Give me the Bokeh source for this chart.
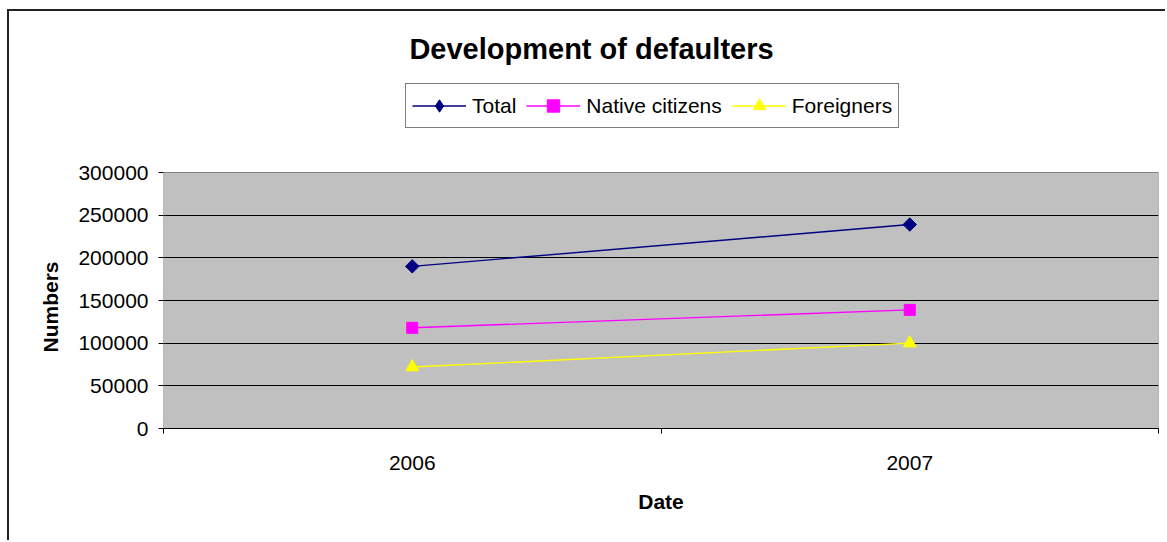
import math
from bokeh.plotting import figure
from bokeh.models import (Range1d, FixedTicker, Legend, LegendItem, Label, Title)
from bokeh.embed import file_html
from bokeh.resources import INLINE

# ---- data ----
years = ["2006", "2007"]
x_pos = [0.5, 1.5]
total = [190000, 239000]
native = [118000, 139000]
foreigners = [72000, 100000]
y_ticks = [0, 50000, 100000, 150000, 200000, 250000, 300000]
y_max = 300000

FONT = "Liberation Sans"
FS = "21px"
W, H = 1158, 531
FL, FR, FT, FB = 154, 9, 0, 114   # frame reaches the top so title/legend live in it
frame_h = H - FT - FB              # 417 px
gray_h = 256                       # pixel height of the 0..300000 plot area
y_top = y_max * frame_h / gray_h
unit = y_top / frame_h             # data units per pixel

p = figure(width=W, height=H, output_backend="svg", toolbar_location=None,
           x_range=Range1d(0, 2), y_range=Range1d(0, y_top),
           min_border_left=FL, min_border_right=FR,
           min_border_top=FT, min_border_bottom=FB)
p.styles = {"border-left": "2px solid #222222", "border-top": "2px solid #222222",
            "margin-left": "7px", "margin-top": "9px"}

p.background_fill_color = "white"
p.border_fill_color = "white"
p.outline_line_color = None

# gray plot area (below grid)
p.quad(left=[0], right=[2], bottom=[0], top=[y_max], fill_color="#C0C0C0",
       line_color="#808080", line_width=1, level="image")

# grid
p.xgrid.grid_line_color = None
p.ygrid.grid_line_color = "black"
p.ygrid.grid_line_width = 1
p.ygrid.ticker = FixedTicker(ticks=y_ticks[1:-1])

# y axis
ya = p.yaxis[0]
ya.ticker = FixedTicker(ticks=y_ticks)
ya.major_label_overrides = {v: str(v) for v in y_ticks}
ya.axis_line_color = None
ya.major_tick_line_color = "black"
ya.major_tick_out = 5
ya.major_tick_in = 0
ya.minor_tick_line_color = None
ya.major_label_text_font = FONT
ya.major_label_text_font_size = FS
ya.major_label_text_color = "black"
ya.major_label_standoff = 10

ytitle = Title(text="Numbers", align="left", text_font=FONT, text_font_style="bold",
               text_font_size=FS, text_color="black", offset=76, standoff=27)
p.add_layout(ytitle, "left")

# x axis
xa = p.xaxis[0]
xa.ticker = FixedTicker(ticks=x_pos, minor_ticks=[0, 1, 2])
xa.major_label_overrides = {x_pos[i]: years[i] for i in range(len(years))}
xa.axis_line_color = "black"
xa.major_tick_line_color = None
xa.minor_tick_line_color = "black"
xa.minor_tick_out = 5
xa.minor_tick_in = 0
xa.major_label_text_font = FONT
xa.major_label_text_font_size = FS
xa.major_label_text_color = "black"
xa.major_label_standoff = 21
xa.axis_label = "Date"
xa.axis_label_text_font = FONT
xa.axis_label_text_font_style = "bold"
xa.axis_label_text_font_size = FS
xa.axis_label_text_color = "black"
xa.axis_label_standoff = 17

# series
lt = p.line(x_pos, total, line_color="#000080", line_width=1.4)
# diamond glyph used by the legend (hidden beneath the rotated-square markers)
mt_leg = p.scatter(x_pos, total, marker="diamond", size=8,
                   fill_color="#000080", line_color="#000080")
mt = p.scatter(x_pos, total, marker="square", angle=math.pi / 4, size=9.5,
               fill_color="#000080", line_color="#000080")
ln = p.line(x_pos, native, line_color="#FF00FF", line_width=1.4)
mn = p.scatter(x_pos, native, marker="square", size=11, fill_color="#FF00FF", line_color="#FF00FF")
lf = p.line(x_pos, foreigners, line_color="#FFFF00", line_width=1.4)
mf = p.scatter(x_pos, foreigners, marker="triangle", size=13, fill_color="#FFFF00", line_color="#FFFF00")

legend = Legend(items=[LegendItem(label="Total", renderers=[lt, mt_leg]),
                       LegendItem(label="Native citizens", renderers=[ln, mn]),
                       LegendItem(label="Foreigners", renderers=[lf, mf])],
                orientation="horizontal", location=(242, 300),
                border_line_color="black", border_line_width=1,
                background_fill_color="white", background_fill_alpha=1,
                label_text_font=FONT, label_text_font_size=FS, label_text_color="black",
                glyph_width=54, glyph_height=31, label_standoff=6,
                spacing=10, padding=6, margin=0)
p.add_layout(legend, "center")

# chart title
title_x = (591 - 163) / (W - FL - FR) * 2
title_y = (frame_h - 37) * unit
p.add_layout(Label(x=title_x, y=title_y, text="Development of defaulters",
                   text_font=FONT, text_font_style="bold", text_font_size="29px",
                   text_color="black", text_align="center", text_baseline="middle"))

open("out.html", "w").write(file_html(p, INLINE))
